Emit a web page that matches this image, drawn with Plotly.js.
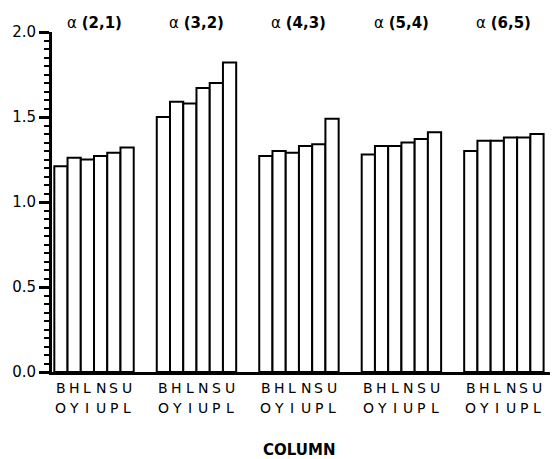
<!DOCTYPE html>
<html>
<head>
<meta charset="utf-8">
<script src="https://cdn.plot.ly/plotly-3.0.1.min.js"></script>
<style>html,body{margin:0;padding:0;background:#fff;}#chart{width:554px;height:459px;}</style>
</head>
<body>
<div id="chart"></div>
<script>
// Groups (top labels) and columns (bars within each group)
const groups = ["α <b>(2,1)</b>", "α <b>(3,2)</b>", "α <b>(4,3)</b>", "α <b>(5,4)</b>", "α <b>(6,5)</b>"];
const columnTop = ["B", "H", "L", "N", "S", "U"];
const columnBottom = ["O", "Y", "I", "U", "P", "L"];
// values per column across the 5 groups
const BO = [1.21, 1.50, 1.27, 1.28, 1.30];
const HY = [1.26, 1.59, 1.30, 1.33, 1.36];
const LI = [1.25, 1.58, 1.29, 1.33, 1.36];
const NU = [1.27, 1.67, 1.33, 1.35, 1.38];
const SP = [1.29, 1.70, 1.34, 1.37, 1.38];
const UL = [1.32, 1.82, 1.49, 1.41, 1.40];
const yTickStep = 0.5;
const yMinorStep = 0.05;

const series = [BO, HY, LI, NU, SP, UL];
const catIdx = groups.map((g, i) => i);
const FONT = "DejaVu Sans, Liberation Sans, sans-serif";

const traces = series.map((vals, i) => ({
  type: "bar", x: catIdx, y: vals, name: columnTop[i] + columnBottom[i],
  marker: {color: "#ffffff", line: {color: "#000000", width: 2}}, hoverinfo: "y"
}));

const bargap = 0.225;
const barW = (1 - bargap) / series.length;
const annotations = [];
groups.forEach((g, gi) => {
  annotations.push({x: gi, xref: "x", y: 1, yref: "paper", yanchor: "middle", yshift: 9,
    text: g, showarrow: false, font: {family: FONT, size: 15, color: "#000"}});
  columnTop.forEach((c, ci) => {
    const xx = gi + (ci - (series.length - 1) / 2) * barW;
    annotations.push({x: xx, xref: "x", y: 0, yref: "paper", yanchor: "middle", yshift: -16,
      text: c, showarrow: false, font: {family: FONT, size: 14, color: "#000"}});
    annotations.push({x: xx, xref: "x", y: 0, yref: "paper", yanchor: "middle", yshift: -36,
      text: columnBottom[ci], showarrow: false, font: {family: FONT, size: 14, color: "#000"}});
  });
});
annotations.push({x: 0.495, xref: "paper", y: 0, yref: "paper", yanchor: "middle", yshift: -78,
  text: "<b>COLUMN</b>", showarrow: false, font: {family: FONT, size: 15, color: "#000"}});

const layout = {
  width: 554, height: 459,
  margin: {l: 52, r: 4, t: 32, b: 87},
  paper_bgcolor: "#fff", plot_bgcolor: "#fff",
  showlegend: false,
  barmode: "group", bargap: bargap, bargroupgap: 0,
  font: {family: FONT, color: "#000", size: 15},
  xaxis: {type: "linear", range: [-0.41, 4.45], showgrid: false, zeroline: false,
    showline: true, linecolor: "#000", linewidth: 3, ticks: "", showticklabels: false},
  yaxis: {
    range: [0, 2.0], showgrid: false, zeroline: false,
    showline: true, linecolor: "#000", linewidth: 3,
    tickmode: "linear", tick0: 0, dtick: yTickStep, tickformat: ".1f",
    ticks: "outside", ticklen: 10, tickwidth: 3, tickcolor: "#000",
    tickfont: {family: FONT, size: 15, color: "#000"},
    minor: {tickmode: "linear", tick0: 0, dtick: yMinorStep, ticks: "outside", ticklen: 5, tickwidth: 2, tickcolor: "#000"}
  },
  annotations: annotations
};

Plotly.newPlot("chart", traces, layout, {displayModeBar: false});
</script>
</body>
</html>
